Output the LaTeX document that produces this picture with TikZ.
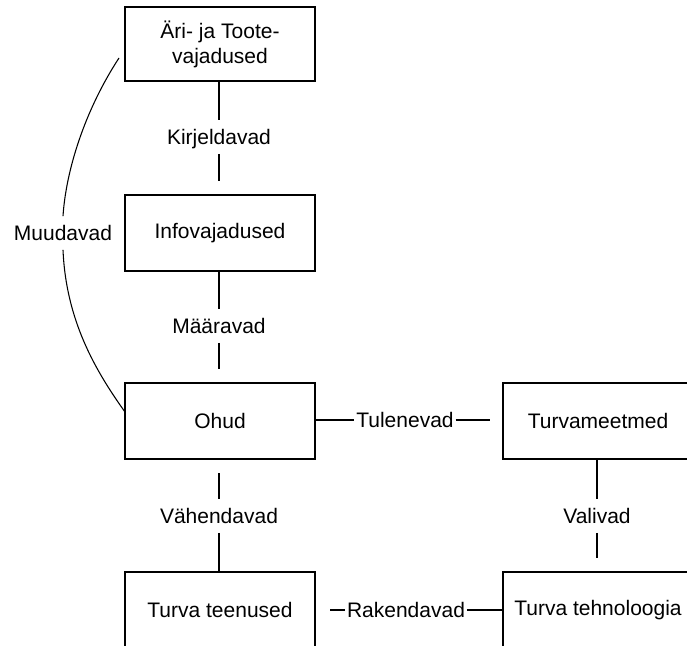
\documentclass[tikz,border=0pt]{standalone}
\usepackage{fontspec}
\setmainfont{Liberation Sans}
\begin{document}
\begin{tikzpicture}[x=0.75pt,y=-0.75pt,
  lbl/.style={font=\fontsize{15.75pt}{18.75pt}\selectfont},
  box/.style={lbl,draw,line width=0.8pt,minimum width=142.5pt,minimum height=57pt,
    inner sep=0pt,outer sep=0pt,align=center},
  rel/.style={lbl,inner xsep=1.5pt,inner ysep=7pt,outer sep=0pt,
    text height=11.3pt,text depth=0pt},
  link/.style={line width=0.8pt}]
\useasboundingbox (0,0) rectangle (687,646);
\clip (0,0) rectangle (687,646);

% concept boxes
\node[box,minimum height=55.5pt] (biz) at (220,44) {Äri- ja Toote-\\vajadused};
\node[box] (info) at (220,233) {Infovajadused};
\node[box] (ohud) at (220,421) {Ohud};
\node[box] (tt) at (220,610) {Turva teenused};
\node[box] (tm) at (598,421) {Turvameetmed};
\node[box] (th) at (598,610) {Turva tehnoloogia};

% relation labels
\node[rel] (kir) at (219,137) {Kirjeldavad};
\node[rel] (maar) at (219,326) {Määravad};
\node[rel] (vah) at (219,516) {Vähendavad};
\node[rel] (val) at (597,516) {Valivad};
\node[rel] (tul) at (405,420) {Tulenevad};
\node[rel] (rak) at (406,610) {Rakendavad};
\node[rel] (mud) at (63,233) {Muudavad};

% vertical links
\draw[link] (biz.south -| kir) -- (kir.north);
\draw[link,shorten >=10.5pt] (kir.south) -- (info.north -| kir);
\draw[link] (info.south -| maar) -- (maar.north);
\draw[link,shorten >=10.5pt] (maar.south) -- (ohud.north -| maar);
\draw[link,shorten <=10.5pt] (ohud.south -| vah) -- (vah.north);
\draw[link] (vah.south) -- (tt.north -| vah);
\draw[link] (tm.south -| val) -- (val.north);
\draw[link,shorten >=10.5pt] (val.south) -- (th.north -| val);

% horizontal links
\draw[link] (ohud.east |- tul) -- (tul.west);
\draw[link,shorten >=10pt] (tul.east) -- (tm.west |- tul);
\draw[link,shorten <=11.5pt] (tt.east |- rak) -- (rak.west);
\draw[link] (rak.east) -- (th.west |- rak);

% curved link on the left
\draw[link] ([shift={(-6,14)}]biz.west) .. controls (85,110) and (66,170) .. (mud.north);
\draw[link] (mud.south) .. controls (66,320) and (95,370) .. ([shift={(0,-9)}]ohud.west);
\end{tikzpicture}
\end{document}
